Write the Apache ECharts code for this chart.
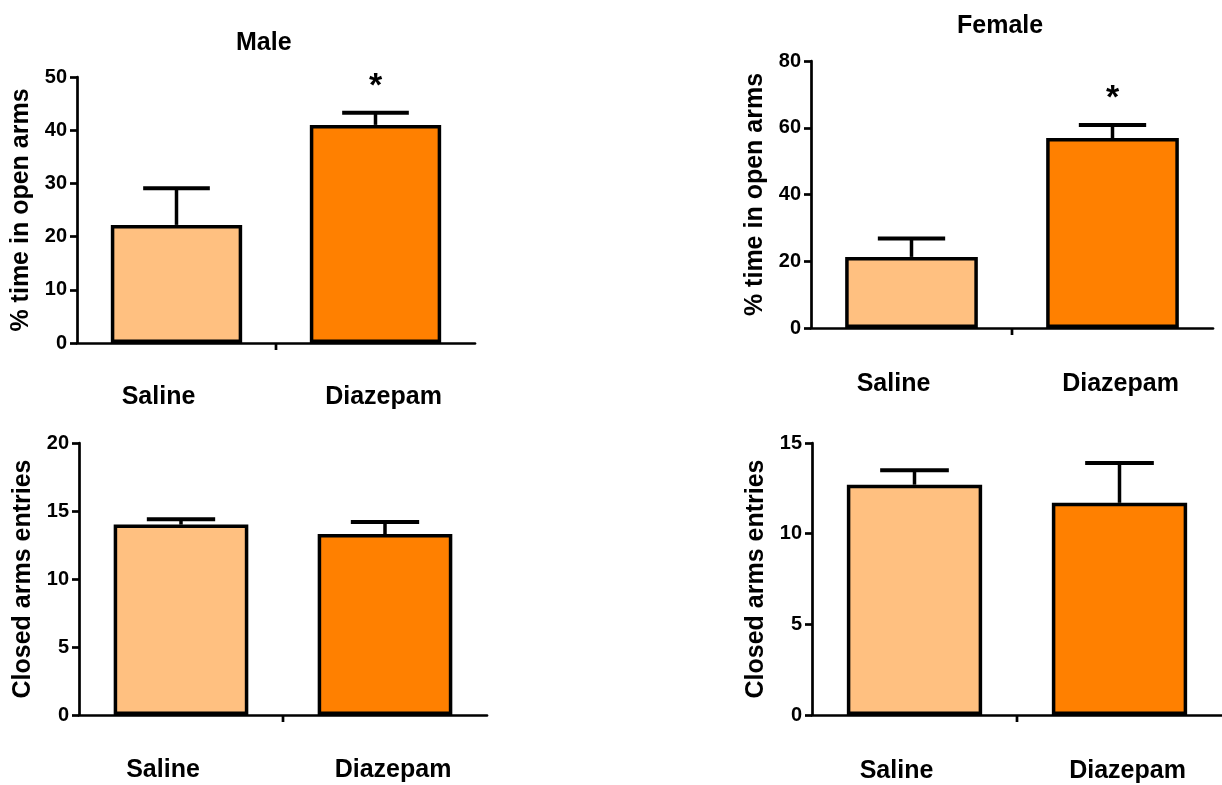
<!DOCTYPE html>
<html>
<head>
<meta charset="utf-8">
<script src="https://cdn.jsdelivr.net/npm/echarts@6/dist/echarts.min.js"></script>
<style>
html,body{margin:0;padding:0;background:#fff;}
#chart{width:1222px;height:785px;}
</style>
</head>
<body>
<div id="chart"></div>
<script>
// ---- data ----
const categories = ['Saline', 'Diazepam'];
const maleOpenMean = [22.2, 41.0];
const maleOpenSem = [6.9, 2.3];
const maleOpenSig = ['', '*'];
const femaleOpenMean = [21.3, 56.9];
const femaleOpenSem = [5.5, 3.9];
const femaleOpenSig = ['', '*'];
const maleClosedMean = [14.0, 13.3];
const maleClosedSem = [0.4, 0.9];
const maleClosedSig = ['', ''];
const femaleClosedMean = [12.7, 11.7];
const femaleClosedSem = [0.8, 2.2];
const femaleClosedSig = ['', ''];
const panelTitles = ['Male', 'Female', '', ''];
const yNames = ['% time in open arms', '% time in open arms', 'Closed arms entries', 'Closed arms entries'];
const yMax = [50, 80, 20, 15];
const yStep = [10, 20, 5, 5];

// ---- styles / layout ----
const FONT = 'Liberation Sans, Arial, sans-serif';
const barColors = ['#FFC080', '#FF8000'];
const grids = [
  {left: 77, top: 77, width: 398, height: 266},
  {left: 811, top: 61, width: 402, height: 267},
  {left: 79, top: 443, width: 408, height: 272},
  {left: 812, top: 443, width: 410, height: 272}
];
const labelMargins = [42, 44, 43, 44];
const panels = [
  [maleOpenMean, maleOpenSem, maleOpenSig],
  [femaleOpenMean, femaleOpenSem, femaleOpenSig],
  [maleClosedMean, maleClosedSem, maleClosedSig],
  [femaleClosedMean, femaleClosedSem, femaleClosedSig]
];

const chart = echarts.init(document.getElementById('chart'));

const xAxes = [], yAxes = [], series = [];
panels.forEach((p, i) => {
  xAxes.push({
    type: 'category', gridIndex: i, data: categories,
    axisLine: {lineStyle: {color: '#000', width: 2.7}},
    axisTick: {show: false},
    axisLabel: {
      margin: labelMargins[i],
      formatter: (v, idx) => idx === 0 ? '{a|' + v + '}' : '{b|' + v + '}',
      rich: {
        a: {fontSize: 25, fontWeight: 'bold', fontFamily: FONT, color: '#000', padding: [0, 36, 0, 0]},
        b: {fontSize: 25, fontWeight: 'bold', fontFamily: FONT, color: '#000', padding: [0, 0, 0, 16]}
      }
    }
  });
  yAxes.push({
    type: 'value', gridIndex: i, min: 0, max: yMax[i], interval: yStep[i],
    name: yNames[i], nameLocation: 'middle', nameGap: 43,
    nameTextStyle: {fontSize: 25, fontWeight: 'bold', fontFamily: FONT, color: '#000'},
    axisLine: {show: true, lineStyle: {color: '#000', width: 2.7}},
    axisTick: {show: true, length: 7, lineStyle: {color: '#000', width: 2.7}},
    axisLabel: {margin: 10, fontSize: 20, fontWeight: 'bold', fontFamily: FONT, color: '#000'},
    splitLine: {show: false}
  });
  series.push({
    type: 'bar', xAxisIndex: i, yAxisIndex: i, barWidth: '66%',
    data: p[0].map((v, k) => ({value: v, itemStyle: {color: barColors[k]}})),
    itemStyle: {borderColor: '#000', borderWidth: 3.5},
    emphasis: {disabled: true},
    z: 2
  });
  const errData = p[0].map((v, k) => [k, v, p[1][k]]);
  const sig = p[2];
  series.push({
    type: 'custom', xAxisIndex: i, yAxisIndex: i, data: errData, z: 3,
    renderItem: function (params, api) {
      const k = api.value(0);
      const mean = api.value(1);
      const err = api.value(2);
      const base = api.coord([k, mean]);
      const top = api.coord([k, mean + err]);
      const band = api.size([1, 0])[0];
      const capHalf = band * 0.67 / 4;
      const children = [
        {type: 'line', shape: {x1: base[0], y1: base[1], x2: top[0], y2: top[1]},
         style: {stroke: '#000', lineWidth: 3.5}},
        {type: 'line', shape: {x1: top[0] - capHalf, y1: top[1], x2: top[0] + capHalf, y2: top[1]},
         style: {stroke: '#000', lineWidth: 4}}
      ];
      if (sig[k]) {
        children.push({type: 'text', style: {text: sig[k], x: top[0], y: top[1] - 26,
          align: 'center', verticalAlign: 'middle', fontSize: 34, fontWeight: 'bold', fontFamily: FONT, fill: '#000'}});
      }
      if (k === 0) {
        const c0 = api.coord([0, 0]);
        const c1 = api.coord([1, 0]);
        const mx = (c0[0] + c1[0]) / 2;
        children.push({type: 'line', shape: {x1: mx, y1: c0[1], x2: mx, y2: c0[1] + 7},
          style: {stroke: '#000', lineWidth: 2.7}});
      }
      return {type: 'group', children: children};
    }
  });
});

chart.setOption({
  animation: false,
  backgroundColor: '#fff',
  title: [
    {text: panelTitles[0], left: 231, top: 26, textStyle: {fontSize: 25, fontWeight: 'bold', fontFamily: FONT, color: '#000'}},
    {text: panelTitles[1], left: 952, top: 9, textStyle: {fontSize: 25, fontWeight: 'bold', fontFamily: FONT, color: '#000'}}
  ],
  grid: grids.map(g => Object.assign({outerBoundsMode: 'none', containLabel: false}, g)),
  xAxis: xAxes,
  yAxis: yAxes,
  series: series
});
</script>
</body>
</html>
